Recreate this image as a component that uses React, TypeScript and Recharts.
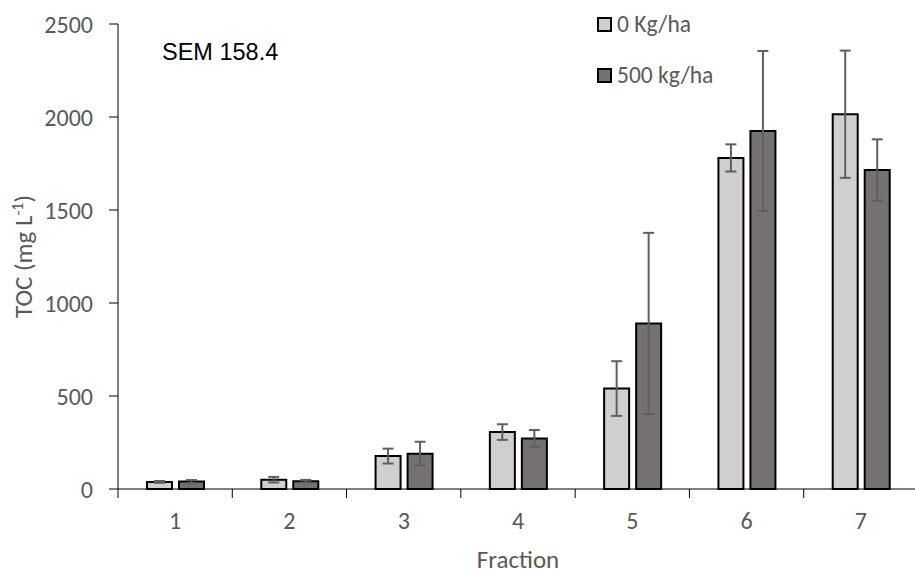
import { BarChart, Bar, XAxis, YAxis, ErrorBar, Legend } from 'recharts';

const CATEGORIES = ['1', '2', '3', '4', '5', '6', '7'];
const SERIES_NAMES = ['0 Kg/ha', '500 kg/ha'];
const LOW_VALUES = [38, 50, 177, 306, 540, 1780, 2015];
const LOW_ERRORS = [5, 15, 40, 42, 147, 73, 342];
const HIGH_VALUES = [40, 42, 190, 272, 890, 1925, 1715];
const HIGH_ERRORS = [8, 7, 64, 45, 487, 430, 165];
const Y_TICKS = [0, 500, 1000, 1500, 2000, 2500];

const COLORS = ['#D0CECE', '#767171'];
const TEXT_GRAY = '#595959';
const FONT = 'Carlito, Lato, sans-serif';

const data = CATEGORIES.map((c, i) => ({
  name: c,
  low: LOW_VALUES[i],
  lowErr: LOW_ERRORS[i],
  high: HIGH_VALUES[i],
  highErr: HIGH_ERRORS[i],
}));

const X_TICK_SIZE = 9;
const X_TICK_MARGIN = 14;

// category label in the middle, Excel-style tick marks on the band edges
function CategoryTick(props: any) {
  const { x, y, payload, width, index } = props;
  const band = width / CATEGORIES.length;
  const axisY = y - X_TICK_SIZE - X_TICK_MARGIN;
  const left = x - band / 2;
  return (
    <g>
      <line x1={left} y1={axisY} x2={left} y2={axisY + X_TICK_SIZE} stroke="#000" />
      {index === CATEGORIES.length - 1 && (
        <line x1={left + band} y1={axisY} x2={left + band} y2={axisY + X_TICK_SIZE} stroke="#000" />
      )}
      <text x={x} y={y} dy="0.71em" textAnchor="middle" fill={TEXT_GRAY} fontSize={24} fontFamily={FONT}>
        {payload.value}
      </text>
    </g>
  );
}

function YTitle({ viewBox }: any) {
  const cx = viewBox.x + 32;
  const cy = viewBox.y + viewBox.height / 2;
  return (
    <text x={cx} y={cy} textAnchor="middle" transform={`rotate(-90, ${cx}, ${cy})`} fill={TEXT_GRAY} fontSize={25} fontFamily={FONT}>
      TOC (mg L<tspan fontSize={16} dy={-9}>-1</tspan><tspan dy={9}>)</tspan>
    </text>
  );
}

function XTitle({ viewBox }: any) {
  return (
    <text x={viewBox.x + viewBox.width / 2} y={568} textAnchor="middle" fill={TEXT_GRAY} fontSize={25} fontFamily={FONT}>
      Fraction
    </text>
  );
}

function LegendBox() {
  return (
    <div style={{ fontFamily: FONT, fontSize: 23.5, color: TEXT_GRAY }}>
      {SERIES_NAMES.map((n, i) => (
        <div key={n} style={{ display: 'flex', alignItems: 'center', height: 28, marginBottom: 23, whiteSpace: 'nowrap' }}>
          <div style={{ width: 15, height: 15, boxSizing: 'border-box', border: '2px solid #000', background: COLORS[i], marginRight: 5 }} />
          <span style={{ lineHeight: '28px' }}>{n}</span>
        </div>
      ))}
    </div>
  );
}

export default function App() {
  return (
    <div style={{ position: 'absolute', left: 0, top: 0, width: 915, height: 575, overflow: 'hidden', background: '#fff' }}>
      <BarChart
        width={925}
        height={575}
        data={data}
        margin={{ top: 24, right: 7, bottom: 0, left: 0 }}
        barSize={25}
        barGap={7}
      >
        <XAxis
          dataKey="name"
          height={86}
          stroke="#000"
          tickLine={false}
          tickSize={X_TICK_SIZE}
          tickMargin={X_TICK_MARGIN}
          tick={<CategoryTick />}
          interval={0}
          label={<XTitle />}
        />
        <YAxis
          width={118}
          domain={[0, 2500]}
          ticks={Y_TICKS}
          stroke="#000"
          tickSize={9}
          tickMargin={16}
          tick={{ fill: TEXT_GRAY, fontSize: 24, fontFamily: FONT }}
          label={<YTitle />}
        />
        <Legend
          layout="vertical"
          align="center"
          verticalAlign="middle"
          wrapperStyle={{ left: 597, top: 10, width: 220 }}
          content={<LegendBox />}
        />
        <Bar dataKey="low" name={SERIES_NAMES[0]} fill={COLORS[0]} stroke="#000" strokeWidth={2} isAnimationActive={false}>
          <ErrorBar dataKey="lowErr" direction="y" width={5.5} stroke="#5f5f5f" strokeWidth={2} />
        </Bar>
        <Bar dataKey="high" name={SERIES_NAMES[1]} fill={COLORS[1]} stroke="#000" strokeWidth={2} isAnimationActive={false}>
          <ErrorBar dataKey="highErr" direction="y" width={5.5} stroke="#5f5f5f" strokeWidth={2} />
        </Bar>
      </BarChart>
      <div style={{ position: 'absolute', left: 162, top: 41, fontFamily: '"Liberation Sans", Arial, sans-serif', fontSize: 23.5, lineHeight: '23.5px', color: '#000' }}>
        SEM 158.4
      </div>
    </div>
  );
}
